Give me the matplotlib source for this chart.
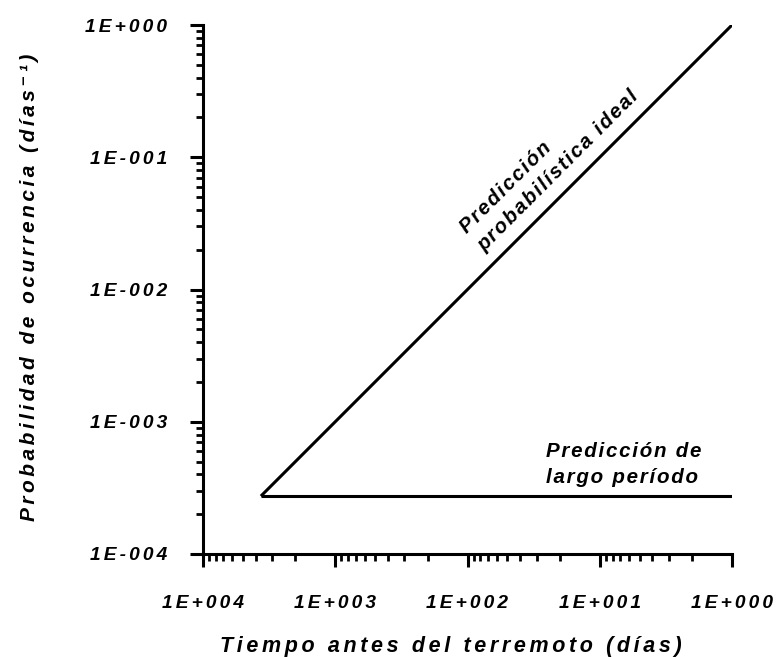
import matplotlib
matplotlib.use("Agg")
import matplotlib.pyplot as plt
from matplotlib.ticker import LogLocator, FixedLocator, FixedFormatter, NullFormatter

plt.rcParams['font.family'] = ['Liberation Sans', 'DejaVu Sans']

# Data
ideal_x = [3650, 1]
ideal_y = [1/3650, 1]
long_x = [3650, 1]
long_y = [1/3650, 1/3650]

x_ticks = [1e4, 1e3, 1e2, 1e1, 1e0]
x_tick_labels = ["1E+004", "1E+003", "1E+002", "1E+001", "1E+000"]
y_ticks = [1e-4, 1e-3, 1e-2, 1e-1, 1e0]
y_tick_labels = ["1E-004", "1E-003", "1E-002", "1E-001", "1E+000"]

x_label = "Tiempo antes del terremoto (días)"
y_label = "Probabilidad de ocurrencia (días⁻¹)"
ideal_text = "Predicción\nprobabilística ideal"
long_text = "Predicción de\nlargo período"

SIX = '\u2006'   # six-per-em space used as letter tracking
HAIR = '\u200a'  # hair space used as letter tracking


def track(s, sp=SIX):
    return "\n".join(sp.join(line) for line in s.split("\n"))


fig = plt.figure(figsize=(7.77, 6.57), dpi=100)
ax = fig.add_axes([203/777, 1 - 554/657, (732-203)/777, (554-25)/657])

ax.plot(ideal_x, ideal_y, color='black', lw=2.2, solid_capstyle='butt')
ax.plot(long_x, long_y, color='black', lw=2.2, solid_capstyle='butt')

ax.set_xscale('log')
ax.set_yscale('log')
ax.set_xlim(1e4, 1e0)
ax.set_ylim(1e-4, 1e0)

for s in ['top', 'right']:
    ax.spines[s].set_visible(False)
for s in ['left', 'bottom']:
    ax.spines[s].set_linewidth(2.2)

ax.xaxis.set_major_locator(FixedLocator(x_ticks))
ax.xaxis.set_major_formatter(FixedFormatter([track(t) for t in x_tick_labels]))
ax.yaxis.set_major_locator(FixedLocator(y_ticks))
ax.yaxis.set_major_formatter(FixedFormatter([track(t) for t in y_tick_labels]))
ax.xaxis.set_minor_locator(LogLocator(base=10, subs=range(2, 10), numticks=20))
ax.yaxis.set_minor_locator(LogLocator(base=10, subs=range(2, 10), numticks=20))
ax.xaxis.set_minor_formatter(NullFormatter())
ax.yaxis.set_minor_formatter(NullFormatter())

ax.tick_params(which='major', length=9.5, width=2.2, direction='out')
ax.tick_params(which='minor', length=5, width=2.0, direction='out')
ax.tick_params(axis='x', which='major', pad=20)
ax.tick_params(axis='y', which='major', pad=16.5)

for lab in ax.get_xticklabels() + ax.get_yticklabels():
    lab.set_fontsize(13.8)
    lab.set_fontweight('bold')
    lab.set_fontstyle('italic')

ax.set_xlabel(track(x_label), fontsize=15.5, fontweight='bold', fontstyle='italic', va='center')
ax.set_ylabel(track(y_label), fontsize=15.0, fontweight='bold', fontstyle='italic', va='center')
ax.xaxis.set_label_coords(0.469, -0.175)
ax.yaxis.set_label_coords(-0.328, 0.505)

afont = dict(fontsize=14.8, fontweight='bold', fontstyle='italic')
ax.text(24.0, 0.092, track(ideal_text, HAIR), rotation=45, rotation_mode='anchor', ha='center',
        va='center', multialignment='left', linespacing=1.45, **afont)
ax.text(25.5, 4.75e-4, track(long_text, HAIR), ha='left', va='center', multialignment='left',
        linespacing=1.5, **afont)

fig.savefig("out.png", dpi=100)
